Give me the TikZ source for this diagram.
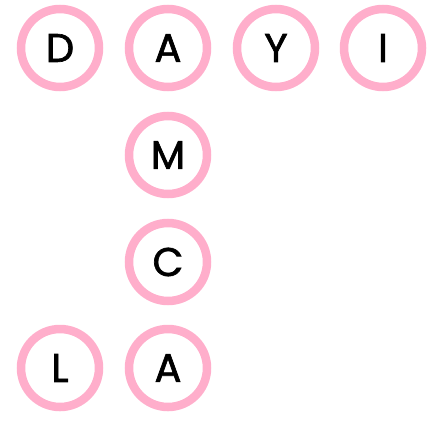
\documentclass[tikz,border=0pt]{standalone}
\usepackage{fontspec}
\setmainfont[FakeBold=1.7]{Poppins}
\definecolor{ringpink}{RGB}{255,174,203}
\begin{document}
\begin{tikzpicture}[x=1pt,y=-1pt,
  letter/.style={circle,draw=ringpink,line width=8.5pt,minimum size=78pt,inner sep=0pt,font=\fontsize{40}{40}\selectfont,text=black}]
\useasboundingbox (0,0) rectangle (430,420);
\node[letter] (d)  at (60,48)  {D};
\node[letter] (a1) at (168,48) {A};
\node[letter] (y)  at (276,48) {Y};
\node[letter] (i)  at (383,48) {I};
\node[letter] (m)  at (168,155) {M};
\node[letter] (c)  at (168,262) {C};
\node[letter] (l)  at (60,368) {L};
\node[letter] (a2) at (168,368) {A};
\end{tikzpicture}
\end{document}
